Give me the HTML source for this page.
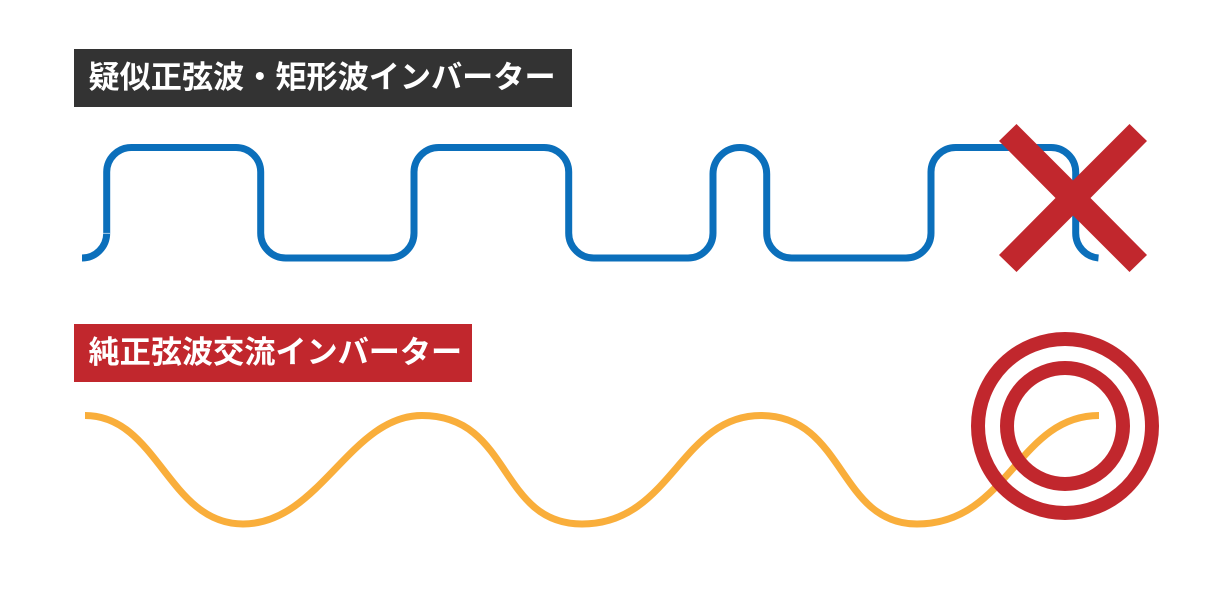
<!DOCTYPE html>
<html lang="ja">
<head>
<meta charset="utf-8">
<title>インバーター</title>
<style>
html,body{margin:0;padding:0;background:#fff;width:1230px;height:597px;overflow:hidden}
.stage{position:relative;width:1230px;height:597px}
.label{position:absolute;left:74px;height:58px;line-height:58px;color:#fff;font-family:"Liberation Sans","Noto Sans CJK JP",sans-serif;font-weight:700;font-size:31.15px;white-space:nowrap;padding-left:14.5px;box-sizing:border-box}
svg{position:absolute;left:0;top:0}
</style>
</head>
<body>
<div class="stage">
<svg width="1230" height="597" viewBox="0 0 1230 597" xmlns="http://www.w3.org/2000/svg">
  <path fill="none" stroke="#0b6fbb" stroke-width="7" d="M82 258 A24.7 25 0 0 0 106.7 233 V172 A24.7 24.7 0 0 1 131.4 147.5 H236 A24.7 24.7 0 0 1 260.7 172 V233 A25 25 0 0 0 285.7 258 H389 A25 25 0 0 0 414 233 V172 A24.7 24.7 0 0 1 438.7 147.5 H544 A24.7 24.7 0 0 1 568.7 172 V233 A25 25 0 0 0 593.7 258 H688 A25 25 0 0 0 713 233 V174 A26.8 26.5 0 0 1 766.7 174 V233 A25 25 0 0 0 791.7 258 H906 A25 25 0 0 0 931 233 V172 A24.7 24.7 0 0 1 955.7 147.5 H1051 A24.7 24.7 0 0 1 1075.7 172 V233 A25 25 0 0 0 1098.5 258"/>
  <line x1="103" y1="233.3" x2="110" y2="233.3" stroke="#cfe3f2" stroke-width="0.8"/>
  <path fill="none" stroke="#f9ae3b" stroke-width="7" d="M85 415.5 C158 415.5 168 524 243 524 C320 524 350 415.5 422 415.5 C512 415.5 498 524 582 524 C672 524 680 415.5 761 415.5 C845 415.5 838 524 917 524 C1008 524 1018 415.5 1099 415.5"/>
  <polygon fill="#c1272d" points="1016.5,124 1073,180.5 1129.5,124 1147,141 1090.5,198 1147,255 1129.5,272 1073,215.5 1016.5,272 999,255 1055.5,198 999,141"/>
  <circle cx="1065" cy="426" r="87" fill="none" stroke="#c1272d" stroke-width="14"/>
  <circle cx="1065" cy="426" r="58" fill="none" stroke="#c1272d" stroke-width="14"/>
</svg>
<div class="label" style="top:49px;width:498px;background:#333333">疑似正弦波・矩形波インバーター</div>
<div class="label" style="top:324px;width:398px;background:#c1272d">純正弦波交流インバーター</div>
</div>
</body>
</html>
